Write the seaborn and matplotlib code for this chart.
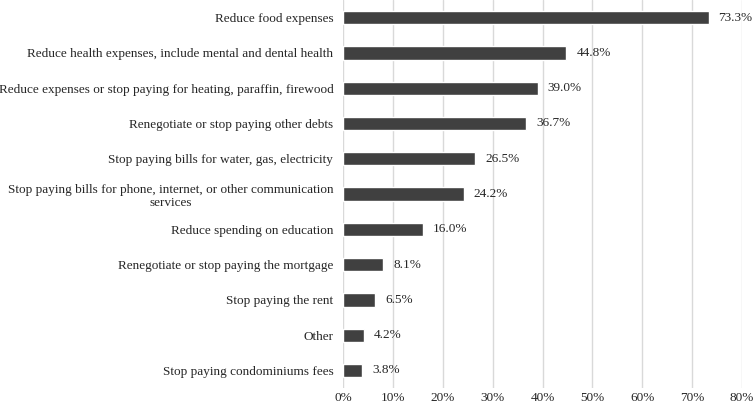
import numpy as np
import pandas as pd
import matplotlib
matplotlib.use("Agg")
import matplotlib.pyplot as plt
import seaborn as sns
from matplotlib.ticker import FuncFormatter

# -----------------------------
# data
# -----------------------------
categories = [
    "Reduce food expenses",
    "Reduce health expenses, include mental and dental health",
    "Reduce expenses or stop paying for heating, paraffin, firewood",
    "Renegotiate or stop paying other debts",
    "Stop paying bills for water, gas, electricity",
    "Stop paying bills for phone, internet, or other communication\nservices",
    "Reduce spending on education",
    "Renegotiate or stop paying the mortgage",
    "Stop paying the rent",
    "Other",
    "Stop paying condominiums fees",
]
shares = [73.3, 44.8, 39.0, 36.7, 26.5, 24.2, 16.0, 8.1, 6.5, 4.2, 3.8]

df = pd.DataFrame({"category": categories, "share": shares})

# -----------------------------
# style
# -----------------------------
sns.set_theme(style="white")
plt.rcParams["font.family"] = ["Liberation Serif", "DejaVu Serif"]

fig = plt.figure(figsize=(7.54, 4.09), dpi=100)
ax = fig.add_axes([0.455, 0.051, 0.529, 0.949])

sns.barplot(data=df, x="share", y="category", color="#404040",
            saturation=1, width=0.38, ax=ax, zorder=3)

# value labels
for i, v in enumerate(df["share"]):
    ax.text(v + 2.0, i, f"{v:.1f}%", va="center", ha="left",
            fontsize=9.5, color="#262626")

ax.set_xlim(0, 80)
ax.set_ylim(10.5, -0.5)
ax.set_xticks(np.arange(0, 81, 10))
ax.xaxis.set_major_formatter(FuncFormatter(lambda x, _: f"{x:.0f}%"))
ax.grid(axis="x", color="#d9d9d9", linewidth=1, zorder=0)
ax.grid(axis="y", visible=False)
for s in ax.spines.values():
    s.set_visible(False)

ax.set_xlabel("")
ax.set_ylabel("")
ax.tick_params(axis="both", length=0, labelsize=9.5, colors="#262626")
ax.tick_params(axis="y", pad=7)
ax.tick_params(axis="x", pad=3)
for lab in ax.get_yticklabels():
    lab.set_multialignment("center")

fig.savefig("out.png", dpi=100)
